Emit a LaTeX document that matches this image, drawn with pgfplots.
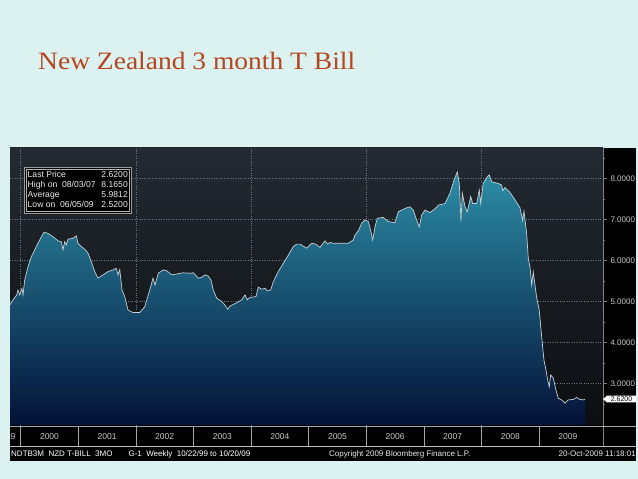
\documentclass[border=0pt]{standalone}
\usepackage{fontspec}
\setmainfont{Liberation Sans}
\newfontfamily\titlefont{Liberation Serif}
\usepackage{pgfplots}
\usepackage{pgfplotstable}
\pgfplotsset{compat=1.18}
\definecolor{pagebg}{HTML}{DCF2F0}
\definecolor{titlered}{HTML}{B5461F}
\definecolor{plottop}{HTML}{232A31}
\definecolor{plotbot}{HTML}{0C0E11}
\definecolor{filltop}{HTML}{2C8DA6}
\definecolor{fillbot}{HTML}{041238}
\definecolor{linecol}{HTML}{C5D0D6}
\definecolor{gridcol}{HTML}{6B7782}
\definecolor{labcol}{HTML}{C8C8C8}

\pgfplotstableread{
t v
1999.809 4.91
1999.866 5.04
1999.931 5.16
1999.953 5.28
1999.983 5.16
2000.023 5.32
2000.040 5.16
2000.069 5.52
2000.127 5.85
2000.184 6.09
2000.271 6.34
2000.358 6.58
2000.405 6.69
2000.474 6.66
2000.561 6.58
2000.648 6.48
2000.705 6.46
2000.734 6.26
2000.764 6.46
2000.792 6.38
2000.821 6.52
2000.908 6.54
2000.965 6.60
2000.995 6.42
2001.052 6.34
2001.122 6.26
2001.168 6.18
2001.226 5.97
2001.285 5.73
2001.342 5.57
2001.429 5.65
2001.516 5.73
2001.602 5.77
2001.660 5.81
2001.689 5.65
2001.720 5.78
2001.759 5.28
2001.806 5.12
2001.863 4.79
2001.950 4.73
2002.066 4.73
2002.153 4.87
2002.240 5.28
2002.297 5.57
2002.332 5.40
2002.389 5.69
2002.476 5.77
2002.535 5.75
2002.622 5.65
2002.708 5.67
2002.823 5.70
2002.939 5.69
2002.997 5.70
2003.083 5.57
2003.142 5.59
2003.200 5.65
2003.257 5.62
2003.304 5.52
2003.344 5.28
2003.403 5.08
2003.490 5.00
2003.547 4.91
2003.594 4.81
2003.634 4.89
2003.750 4.97
2003.837 5.04
2003.894 5.16
2003.934 5.04
2003.981 5.10
2004.085 5.12
2004.125 5.35
2004.184 5.30
2004.241 5.32
2004.281 5.26
2004.340 5.28
2004.385 5.48
2004.472 5.73
2004.559 5.93
2004.646 6.13
2004.733 6.34
2004.792 6.40
2004.849 6.40
2004.906 6.35
2004.965 6.30
2005.052 6.42
2005.120 6.40
2005.196 6.32
2005.283 6.48
2005.330 6.40
2005.370 6.44
2005.430 6.42
2005.486 6.42
2005.688 6.42
2005.774 6.50
2005.804 6.62
2005.861 6.72
2005.920 6.91
2005.977 6.99
2006.035 6.95
2006.082 6.70
2006.111 6.50
2006.151 6.82
2006.191 7.03
2006.295 7.05
2006.382 6.95
2006.498 6.92
2006.556 7.19
2006.672 7.27
2006.759 7.31
2006.816 7.23
2006.863 7.03
2006.920 6.82
2006.962 7.11
2007.019 7.23
2007.106 7.17
2007.163 7.23
2007.222 7.30
2007.250 7.35
2007.366 7.39
2007.453 7.64
2007.523 7.96
2007.580 8.16
2007.615 7.88
2007.644 6.95
2007.667 7.64
2007.714 7.31
2007.753 7.19
2007.813 7.56
2007.847 7.39
2007.917 7.39
2007.962 7.72
2007.986 7.39
2008.031 7.88
2008.101 8.04
2008.135 8.09
2008.177 7.92
2008.292 7.88
2008.351 7.84
2008.370 7.70
2008.408 7.78
2008.495 7.66
2008.582 7.48
2008.668 7.29
2008.715 6.98
2008.738 7.20
2008.785 6.65
2008.813 6.05
2008.842 5.85
2008.872 5.40
2008.899 5.72
2008.958 5.10
2009.003 4.79
2009.045 4.14
2009.085 3.57
2009.120 3.33
2009.149 3.09
2009.177 2.92
2009.201 3.21
2009.247 3.13
2009.293 2.84
2009.333 2.64
2009.392 2.60
2009.450 2.52
2009.507 2.60
2009.594 2.61
2009.653 2.66
2009.710 2.61
2009.767 2.60
2009.800 2.62
}\nzdata

\begin{document}
\begin{tikzpicture}
\path[use as bounding box] (0pt,0pt) rectangle (638pt,479pt);
\fill[pagebg] (0pt,0pt) rectangle (638pt,479pt);
\fill[black] (10pt,18pt) rectangle (636pt,331pt);
\node[anchor=base west, inner sep=0, text=titlered, font=\titlefont\fontsize{25}{28}\selectfont] at (38pt,409pt) {\scalebox{1.1}[1]{New Zealand 3 month T Bill}};
\begin{axis}[
  at={(10pt,54pt)}, anchor=south west, scale only axis, width=593pt, height=277pt,
  xmin=1999.814, xmax=2010.11, ymin=1.988, ymax=8.744,
  axis line style={draw=none},
  axis background/.style={top color=plottop, bottom color=plotbot},
  xtick={2000,2002,2004,2006,2008}, xticklabels={}, xtick style={draw=none},
  ytick={3,4,5,6,7,8}, minor ytick={2.5,3.5,4.5,5.5,6.5,7.5,8.5},
  ytick pos=right, yticklabel pos=right,
  tick align=outside, major tick length=4pt, minor tick length=2.5pt,
  ytick style={draw=gray, line width=0.5pt},
  grid=major, grid style={gridcol, dotted, line width=0.5pt},
  yticklabel style={font=\fontsize{8}{9}\selectfont, text=labcol,
    /pgf/number format/fixed, /pgf/number format/fixed zerofill,
    /pgf/number format/precision=4, /pgf/number format/assume math mode=true},
]
\addplot[draw=none, top color=filltop, bottom color=fillbot] table[x=t,y=v]{\nzdata} -- (axis cs:2009.80,1.988) -- (axis cs:1999.809,1.988) -- cycle;
\addplot[linecol, line width=0.7pt] table[x=t,y=v]{\nzdata};
\end{axis}
% right axis line and bottom band
\draw[gray, line width=0.5pt] (603pt,33pt) -- (603pt,331pt);
\draw[gray!70, line width=0.6pt] (10pt,53pt) -- (636pt,53pt);
\draw[gray!50, line width=0.4pt] (10pt,33pt) -- (636pt,33pt);
\foreach \xx in {20.7,78.3,135.9,193.5,251.1,308.7,366.3,423.9,481.5,539.1}
  \draw[gray!70, line width=0.5pt] (\xx pt,33pt) -- (\xx pt,53pt);
\foreach \xx/\yy in {49.5/2000,107.1/2001,164.7/2002,222.3/2003,279.9/2004,337.5/2005,395.1/2006,452.7/2007,510.3/2008,567.9/2009}
  \node[font=\fontsize{8.5}{9}\selectfont, text=labcol, anchor=base] at (\xx pt,39pt) {\yy};
\node[font=\fontsize{8.5}{9}\selectfont, text=labcol, anchor=base] at (13pt,39pt) {9};
% info bar
\node[font=\fontsize{8}{9}\selectfont, text=white, anchor=base west, inner sep=0] at (11pt,22pt) {NDTB3M\ \ NZD T-BILL\ \ 3MO\qquad G-1\ \ Weekly\ \ 10/22/99 to 10/20/09};
\node[font=\fontsize{8}{9}\selectfont, text=white!85!gray, anchor=base west, inner sep=0] at (329pt,22pt) {Copyright 2009 Bloomberg Finance L.P.};
\node[font=\fontsize{8}{9}\selectfont, text=white!85!gray, anchor=base east, inner sep=0] at (636pt,22pt) {20-Oct-2009 11:18:01};
% last price tag
\fill[white] (603pt,79.9pt) -- (607pt,83.3pt) -- (636pt,83.3pt) -- (636pt,76.5pt) -- (607pt,76.5pt) -- cycle;
\node[font=\fontsize{7}{8}\selectfont, text=black, anchor=center, inner sep=0] at (621.5pt,79.9pt) {2.6200};
% info box
\fill[black] (24pt,266pt) rectangle (131pt,312pt);
\draw[gray!80, line width=0.7pt] (24pt,266pt) rectangle (131pt,312pt);
\draw[gray!60, line width=0.5pt] (26pt,268pt) rectangle (129pt,310pt);
\begin{scope}[every node/.style={font=\fontsize{8.6}{9}\selectfont, text=white!85!gray, inner sep=0}]
\node[anchor=base west] at (27.5pt,301pt) {Last Price};
\node[anchor=base east] at (128pt,301pt) {2.6200};
\node[anchor=base west] at (27.5pt,291pt) {High on\ \ 08/03/07};
\node[anchor=base east] at (128pt,291pt) {8.1650};
\node[anchor=base west] at (27.5pt,281pt) {Average};
\node[anchor=base east] at (128pt,281pt) {5.9812};
\node[anchor=base west] at (27.5pt,271pt) {Low on\ \ 06/05/09};
\node[anchor=base east] at (128pt,271pt) {2.5200};
\end{scope}
\end{tikzpicture}
\end{document}
